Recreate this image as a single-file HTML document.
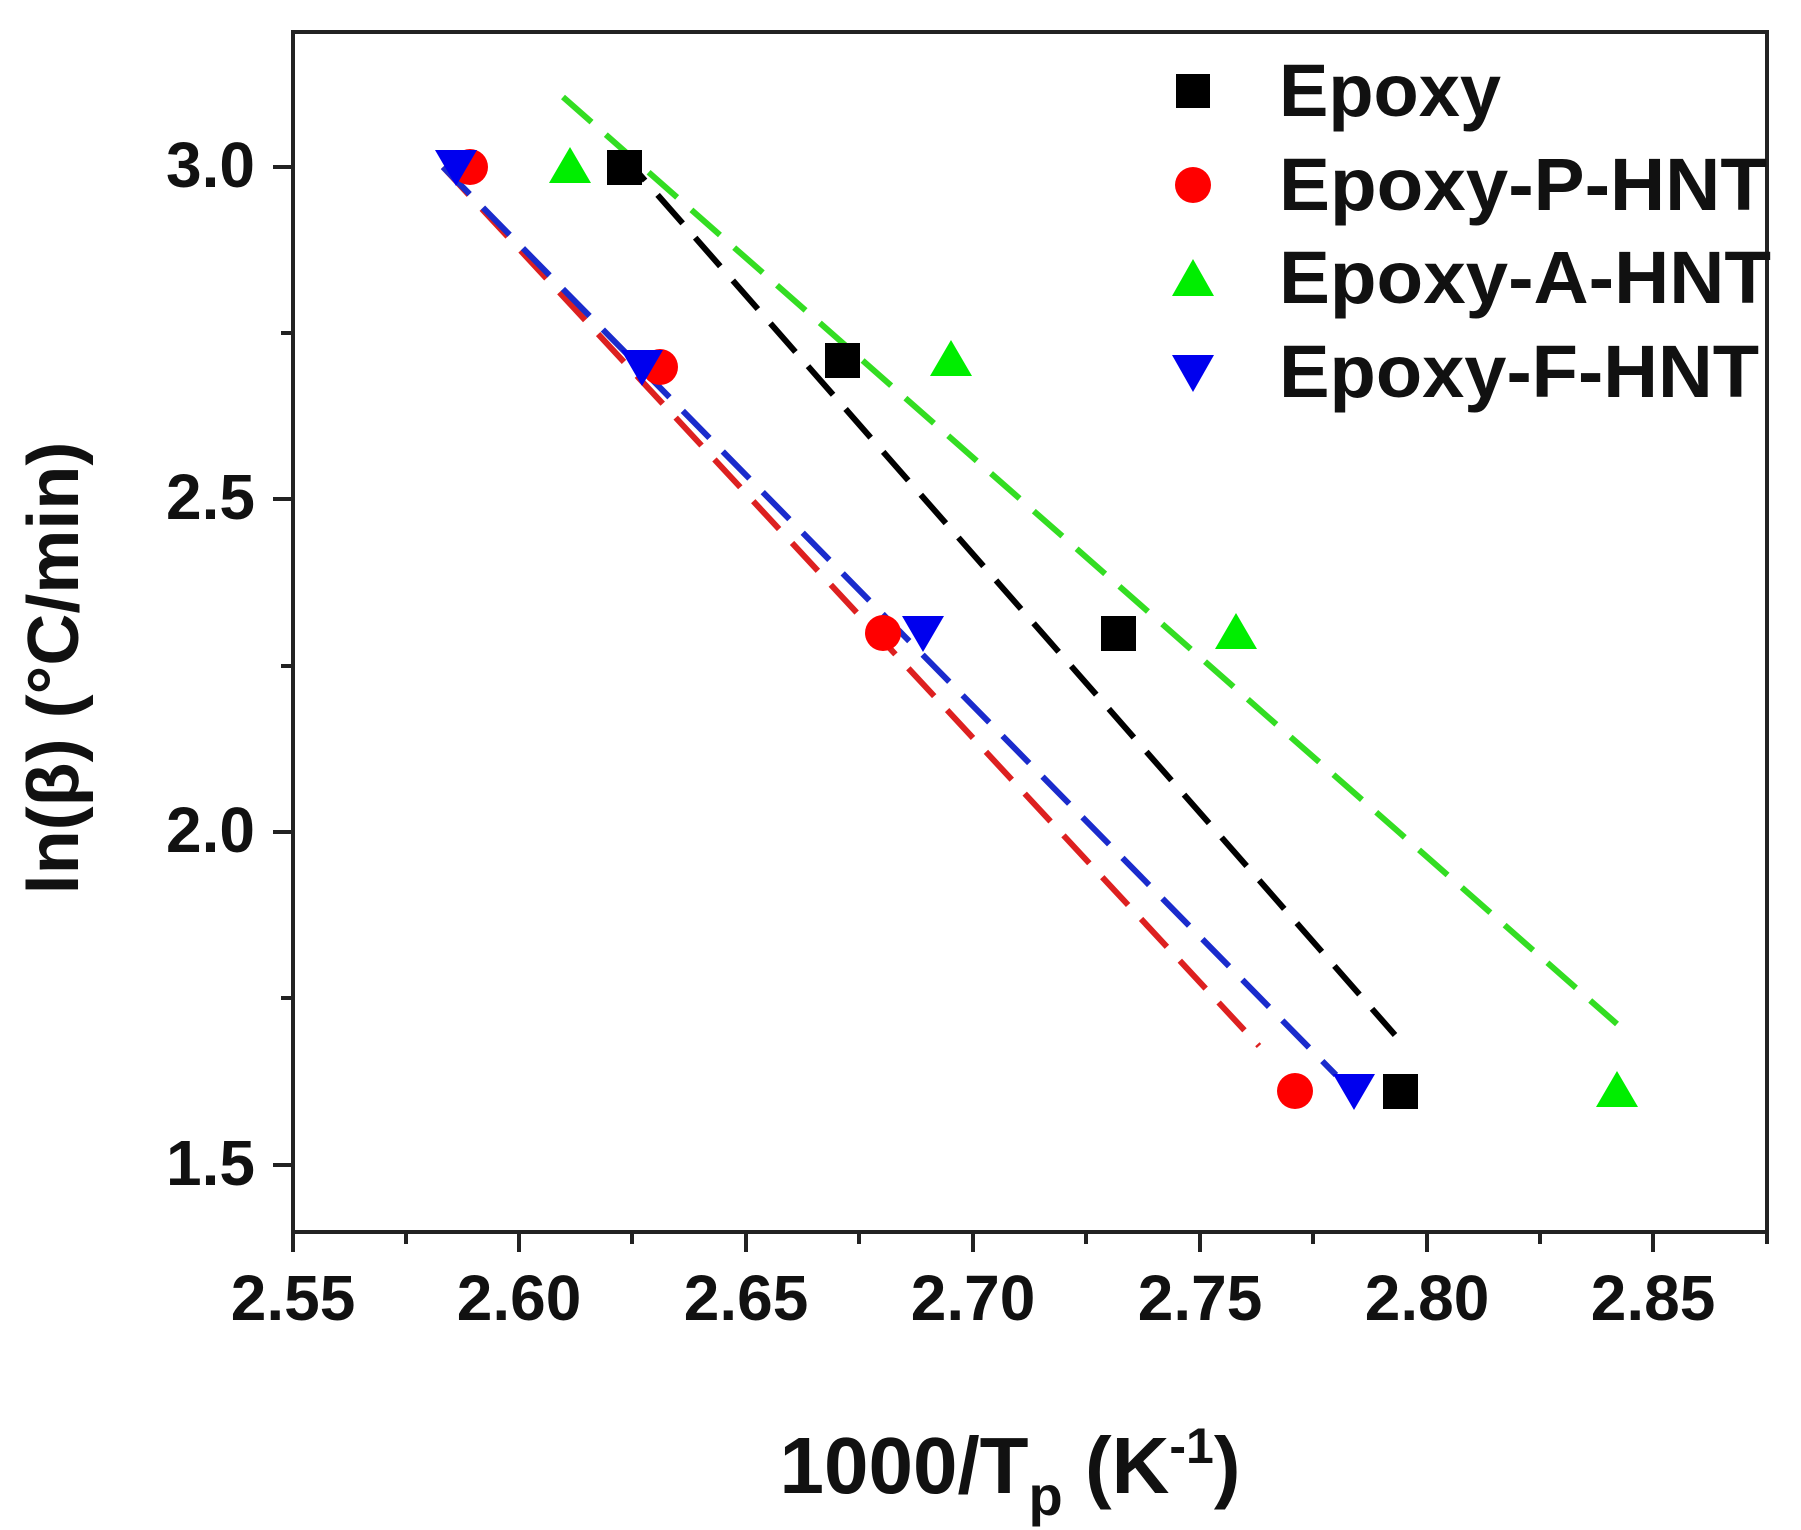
<!DOCTYPE html>
<html><head><meta charset="utf-8"><style>
html,body{margin:0;padding:0;background:#fff;}
svg{display:block;font-family:"Liberation Sans",Arial,sans-serif;font-weight:bold;}
</style></head><body>
<svg width="1801" height="1530" viewBox="0 0 1801 1530" xmlns="http://www.w3.org/2000/svg">
<rect width="1801" height="1530" fill="#fff"/>
<rect x="293" y="32" width="1474" height="1200" fill="none" stroke="#222" stroke-width="4"/>
<g stroke="#222" stroke-width="4">
<line x1="293" y1="1232" x2="293" y2="1252"/><line x1="519" y1="1232" x2="519" y2="1252"/>
<line x1="746" y1="1232" x2="746" y2="1252"/><line x1="973" y1="1232" x2="973" y2="1252"/>
<line x1="1200" y1="1232" x2="1200" y2="1252"/><line x1="1427" y1="1232" x2="1427" y2="1252"/>
<line x1="1653" y1="1232" x2="1653" y2="1252"/>
<line x1="406" y1="1232" x2="406" y2="1244"/><line x1="632" y1="1232" x2="632" y2="1244"/>
<line x1="859" y1="1232" x2="859" y2="1244"/><line x1="1086" y1="1232" x2="1086" y2="1244"/>
<line x1="1313" y1="1232" x2="1313" y2="1244"/><line x1="1540" y1="1232" x2="1540" y2="1244"/>
<line x1="1767" y1="1232" x2="1767" y2="1244"/>
<line x1="273" y1="167" x2="293" y2="167"/><line x1="273" y1="499" x2="293" y2="499"/>
<line x1="273" y1="832" x2="293" y2="832"/><line x1="273" y1="1165" x2="293" y2="1165"/>
<line x1="281" y1="333" x2="293" y2="333"/><line x1="281" y1="666" x2="293" y2="666"/>
<line x1="281" y1="998" x2="293" y2="998"/>
</g>
<g font-size="64" fill="#111" text-anchor="middle">
<text x="293" y="1320">2.55</text><text x="519" y="1320">2.60</text><text x="746" y="1320">2.65</text>
<text x="973" y="1320">2.70</text><text x="1200" y="1320">2.75</text><text x="1427" y="1320">2.80</text>
<text x="1653" y="1320">2.85</text>
</g>
<g font-size="64" fill="#111" text-anchor="end">
<text x="255" y="187">3.0</text><text x="255" y="519">2.5</text>
<text x="255" y="852">2.0</text><text x="255" y="1185">1.5</text>
</g>
<text x="1010" y="1493" font-size="80" fill="#111" text-anchor="middle">1000/T<tspan font-size="56" dy="22">p</tspan><tspan dy="-22"> (K</tspan><tspan font-size="50" dy="-30">-1</tspan><tspan dy="30">)</tspan></text>
<text transform="translate(78,668) rotate(-90)" font-size="72" fill="#111" text-anchor="middle">ln(β) (°C/min)</text>
<g stroke-width="6" stroke-dasharray="38 19" fill="none">
<line x1="620" y1="152" x2="1395" y2="1035" stroke="#000"/>
<line x1="563" y1="97" x2="1617" y2="1024" stroke="#33dd22"/>
<line x1="443" y1="167" x2="1259" y2="1046" stroke="#dd2020"/>
<line x1="443" y1="167" x2="1336" y2="1075" stroke="#1a2bcc"/>
</g>
<g fill="#000">
<rect x="607" y="150" width="35" height="35"/><rect x="825" y="343" width="35" height="35"/>
<rect x="1101" y="616" width="35" height="35"/><rect x="1383" y="1074" width="35" height="35"/>
</g>
<g fill="#ff0000">
<circle cx="470" cy="167" r="18"/><circle cx="660" cy="367" r="18"/>
<circle cx="883" cy="633" r="18"/><circle cx="1295" cy="1091" r="18"/>
</g>
<g fill="#00ee00">
<polygon points="570,147 549,183 591,183"/><polygon points="951,340 930,376 972,376"/>
<polygon points="1236,613 1215,649 1257,649"/><polygon points="1617,1071 1596,1107 1638,1107"/>
</g>
<g fill="#0000ee">
<polygon points="435,150 477,150 456,186"/><polygon points="621,350 663,350 642,386"/>
<polygon points="902,616 944,616 923,652"/><polygon points="1333,1074 1375,1074 1354,1110"/>
</g>
<rect x="1176" y="74" width="34" height="34" fill="#000"/>
<circle cx="1193" cy="185" r="18" fill="#ff0000"/>
<polygon points="1193,259 1172,296 1214,296" fill="#00ee00"/>
<polygon points="1172,355 1214,355 1193,392" fill="#0000ee"/>
<g font-size="74" fill="#111">
<text x="1279" y="116">Epoxy</text>
<text x="1279" y="210" textLength="488" lengthAdjust="spacingAndGlyphs">Epoxy-P-HNT</text>
<text x="1279" y="303" textLength="492" lengthAdjust="spacingAndGlyphs">Epoxy-A-HNT</text>
<text x="1279" y="397" textLength="480" lengthAdjust="spacingAndGlyphs">Epoxy-F-HNT</text>
</g>
</svg>
</body></html>
